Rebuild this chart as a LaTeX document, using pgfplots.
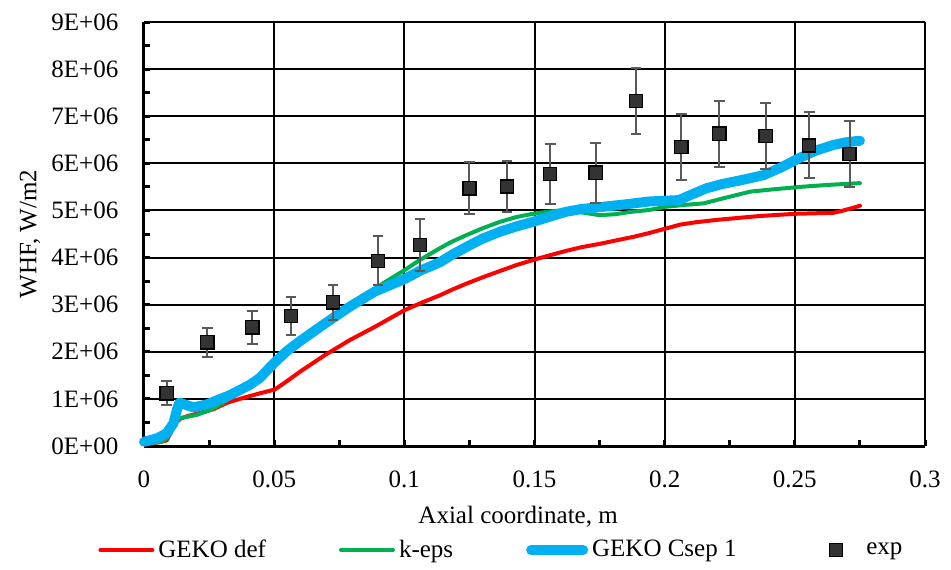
\documentclass[border=0pt]{standalone}
\usepackage{fontspec}
\setmainfont{Liberation Serif}
\usepackage{pgfplots}
\pgfplotsset{compat=1.18}
\definecolor{cred}{HTML}{FF0000}
\definecolor{cgreen}{HTML}{00B050}
\definecolor{cblue}{HTML}{00B0F0}
\definecolor{cerr}{HTML}{595959}
\definecolor{cmark}{HTML}{333333}
\pgfplotsset{
  mylegline/.style={legend image code/.code={\draw[##1] (0pt,0pt) -- (26pt,0pt);}},
  mylegmark/.style={legend image code/.code={\path (0pt,0pt) (26pt,0pt);\draw[mark repeat=2,mark phase=2,##1] plot coordinates {(0pt,0pt) (13pt,0pt) (26pt,0pt)};}},
}
\begin{document}
\begin{tikzpicture}
\useasboundingbox (-72pt,-61.5pt) rectangle (403.5pt,223pt);
\begin{axis}[
  at={(0,0)}, anchor=south west,
  scale only axis, width=390.5pt, height=212pt,
  font=\fontsize{12.5}{15}\selectfont,
  xmin=0, xmax=0.3, ymin=0, ymax=9000000,
  axis lines=left, axis line style={-, line width=1.5pt, black},
  clip=false,
  xtick={0,0.05,0.1,0.15,0.2,0.25,0.3},
  xticklabels={0,0.05,0.1,0.15,0.2,0.25,0.3},
  ytick={0,1000000,2000000,3000000,4000000,5000000,6000000,7000000,8000000,9000000},
  yticklabels={0E+00,1E+06,2E+06,3E+06,4E+06,5E+06,6E+06,7E+06,8E+06,9E+06},
  scaled ticks=false,
  minor x tick num=1, minor y tick num=1,
  tick align=inside,
  major tick length=3pt, minor tick length=3pt,
  every tick/.style={black, line width=1.5pt},
  grid=major,
  major grid style={black, line width=1pt},
  xticklabel style={yshift=-8.7pt},
  yticklabel style={xshift=-9.3pt},
  xlabel={Axial coordinate, m},
  xlabel style={at={(axis description cs:0.479,-0.1675)}, anchor=center},
  ylabel={WHF, W/m2},
  ylabel style={at={(axis description cs:-0.146,0.5)}, anchor=center},
  legend columns=4,
  legend style={at={(axis description cs:-0.0589,-0.2453)}, anchor=west,
    draw=none, fill=none, inner sep=0pt,
    /tikz/every even column/.append style={column sep=34.5pt}},
  legend cell align=left,
]
\addplot[cred, line width=2pt, line cap=round, line join=round, mylegline]
coordinates {
(0.000,0.05e6)(0.003,0.06e6)(0.006,0.08e6)(0.0087,0.12e6)(0.010,0.25e6)
(0.012,0.48e6)(0.014,0.58e6)(0.017,0.64e6)(0.020,0.68e6)(0.0266,0.78e6)
(0.032,0.92e6)(0.038,1.02e6)(0.0446,1.12e6)(0.0503,1.20e6)(0.055,1.38e6)
(0.060,1.58e6)(0.0695,1.93e6)(0.0791,2.25e6)(0.0887,2.53e6)(0.1003,2.89e6)
(0.1070,3.05e6)(0.1137,3.20e6)(0.118,3.31e6)(0.124,3.45e6)(0.131,3.60e6)
(0.137,3.72e6)(0.143,3.84e6)(0.1495,3.95e6)(0.156,4.05e6)(0.162,4.14e6)
(0.168,4.22e6)(0.175,4.29e6)(0.181,4.36e6)(0.188,4.44e6)(0.194,4.52e6)
(0.2007,4.62e6)(0.206,4.70e6)(0.212,4.75e6)(0.220,4.80e6)(0.228,4.84e6)
(0.236,4.88e6)(0.2445,4.91e6)(0.2507,4.93e6)(0.2648,4.95e6)(0.268,4.99e6)
(0.272,5.05e6)(0.275,5.10e6)
};
\addlegendentry{GEKO def}
\addplot[cgreen, line width=2pt, line cap=round, line join=round, mylegline]
coordinates {
(0.000,0.05e6)(0.004,0.07e6)(0.007,0.10e6)(0.009,0.18e6)(0.011,0.38e6)
(0.0125,0.54e6)(0.0138,0.59e6)(0.0202,0.66e6)(0.0253,0.76e6)(0.030,0.90e6)
(0.035,1.10e6)(0.0407,1.30e6)(0.0446,1.45e6)(0.0475,1.62e6)(0.0503,1.78e6)
(0.055,2.02e6)(0.060,2.25e6)
(0.0695,2.62e6)(0.0791,2.99e6)(0.0887,3.34e6)(0.092,3.46e6)(0.1003,3.74e6)
(0.106,3.95e6)(0.1137,4.20e6)(0.118,4.33e6)(0.124,4.48e6)
(0.130,4.62e6)(0.1368,4.76e6)(0.143,4.86e6)(0.1495,4.93e6)(0.156,4.98e6)
(0.162,5.01e6)(0.168,4.96e6)(0.175,4.90e6)(0.181,4.92e6)(0.187,4.97e6)
(0.194,5.01e6)(0.2007,5.08e6)(0.208,5.12e6)(0.2149,5.15e6)(0.222,5.25e6)
(0.2329,5.40e6)(0.242,5.45e6)(0.252,5.50e6)(0.262,5.54e6)(0.275,5.58e6)
};
\addlegendentry{k-eps}
\addplot[cblue, line width=5pt, line cap=round, line join=round, mylegline]
coordinates {
(0.000,0.09e6)(0.0049,0.16e6)(0.0087,0.27e6)(0.0113,0.48e6)(0.0128,0.80e6)
(0.0136,0.92e6)(0.0157,0.88e6)(0.019,0.82e6)(0.024,0.88e6)(0.033,1.08e6)
(0.0407,1.30e6)(0.0446,1.45e6)(0.0475,1.62e6)(0.0503,1.78e6)(0.055,2.02e6)
(0.060,2.23e6)(0.0695,2.60e6)
(0.0791,2.96e6)(0.0887,3.28e6)(0.1003,3.55e6)(0.106,3.72e6)(0.1137,3.90e6)
(0.118,4.05e6)(0.124,4.23e6)
(0.130,4.40e6)(0.1368,4.55e6)(0.143,4.66e6)(0.1495,4.76e6)(0.156,4.87e6)
(0.162,4.97e6)(0.168,5.03e6)(0.175,5.07e6)(0.185,5.13e6)(0.194,5.19e6)
(0.2055,5.22e6)(0.210,5.33e6)(0.216,5.47e6)(0.222,5.56e6)(0.230,5.65e6)
(0.238,5.75e6)(0.245,5.92e6)(0.252,6.12e6)(0.258,6.27e6)(0.2648,6.39e6)
(0.270,6.45e6)(0.275,6.48e6)
};
\addlegendentry{GEKO Csep 1}
\addplot[only marks, mark=square*, mark size=3.3pt,
  mark options={fill=cmark, draw=black, line width=0.7pt}, mylegmark,
  error bars/.cd, y dir=both, y explicit,
  error bar style={cerr, line width=1pt},
  error mark options={rotate=90, mark size=2.7pt, cerr, line width=1pt}]
coordinates {
(0.0087,1.12e6) +- (0,0.25e6)
(0.0243,2.20e6) +- (0,0.31e6)
(0.0416,2.52e6) +- (0,0.35e6)
(0.0565,2.76e6) +- (0,0.40e6)
(0.0726,3.05e6) +- (0,0.37e6)
(0.0899,3.93e6) +- (0,0.52e6)
(0.1060,4.27e6) +- (0,0.55e6)
(0.1250,5.47e6) +- (0,0.55e6)
(0.1394,5.51e6) +- (0,0.55e6)
(0.1560,5.77e6) +- (0,0.64e6)
(0.1735,5.80e6) +- (0,0.64e6)
(0.1890,7.32e6) +- (0,0.70e6)
(0.2064,6.35e6) +- (0,0.70e6)
(0.2210,6.63e6) +- (0,0.70e6)
(0.2388,6.58e6) +- (0,0.70e6)
(0.2555,6.38e6) +- (0,0.70e6)
(0.2710,6.20e6) +- (0,0.70e6)
};
\addlegendentry{exp}
\end{axis}
\end{tikzpicture}
\end{document}
